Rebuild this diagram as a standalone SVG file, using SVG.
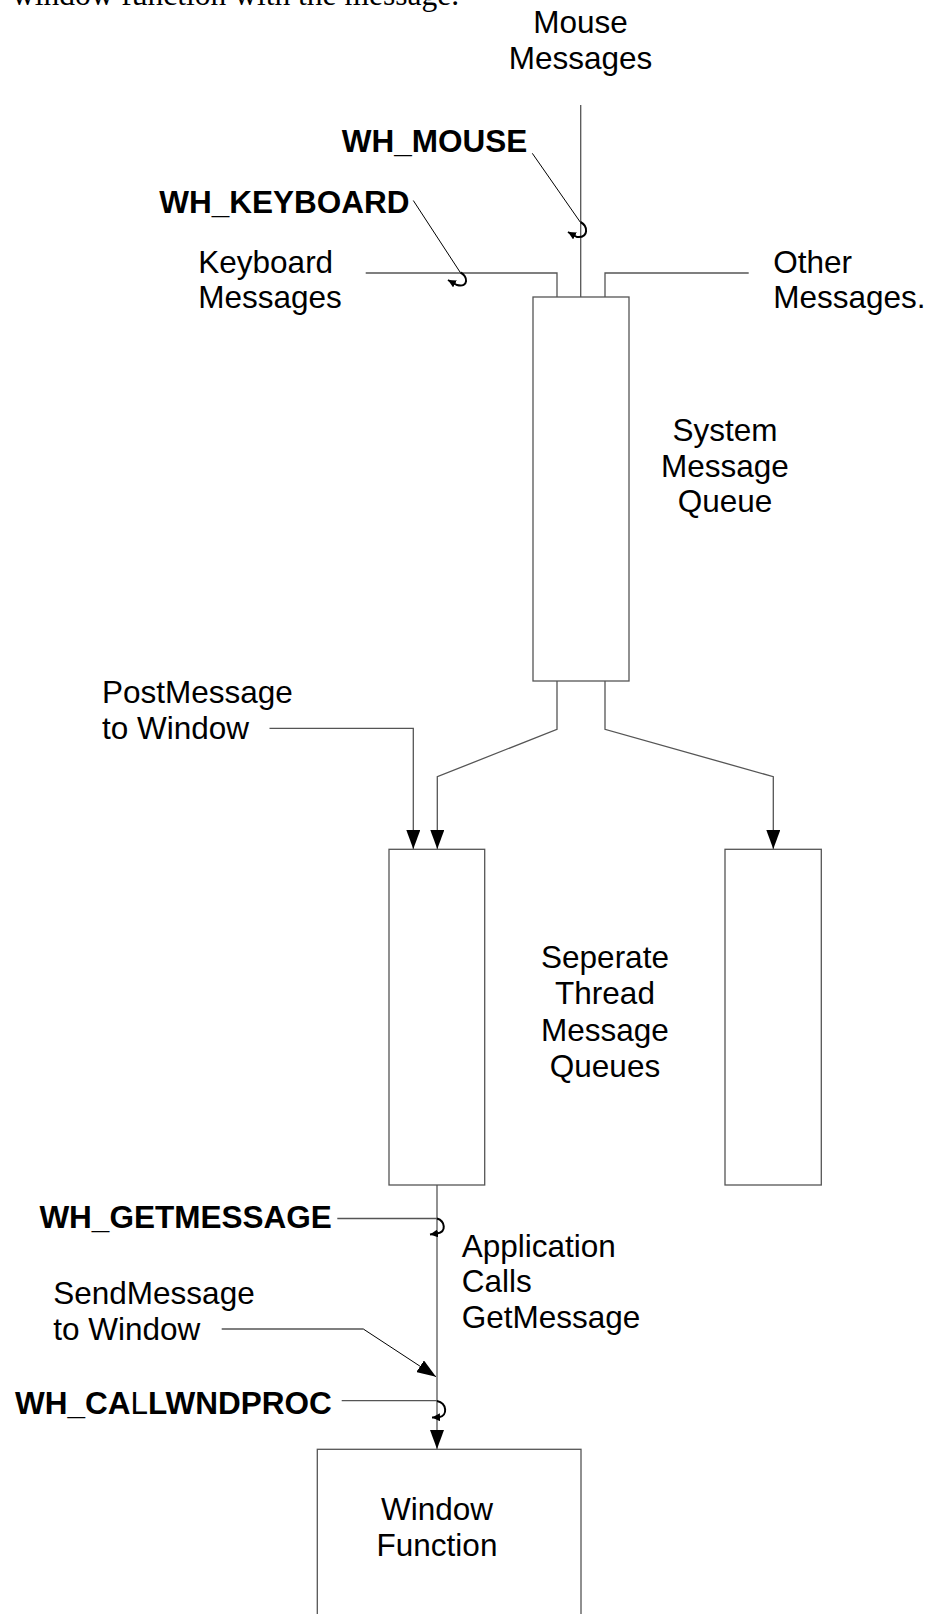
<svg xmlns="http://www.w3.org/2000/svg" width="929" height="1614" viewBox="0 0 929 1614">
  <style>
    .t { font-family: "Liberation Sans", Arial, sans-serif; font-size: 31.5px; fill: #000; }
    .b { font-family: "Liberation Sans", Arial, sans-serif; font-size: 31.5px; font-weight: bold; fill: #000; }
    .serif { font-family: "Liberation Serif", "Times New Roman", serif; font-size: 31.5px; fill: #000; }
    .box { fill: #fff; stroke: #555; stroke-width: 1.3; }
    .ln { fill: none; stroke: #555; stroke-width: 1.3; }
    .thin { fill: none; stroke: #000; stroke-width: 1; }
    .hk { fill: none; stroke: #000; stroke-width: 2; }
  </style>
  <defs>
    <marker id="arr" viewBox="0 0 19 14" refX="19" refY="7" markerWidth="19" markerHeight="14" markerUnits="userSpaceOnUse" orient="auto">
      <path d="M0,0 L19,7 L0,14 z" fill="#000"/>
    </marker>
    <marker id="hookArr" viewBox="0 0 8 8" refX="8" refY="4" markerWidth="8" markerHeight="8" markerUnits="userSpaceOnUse" orient="auto">
      <path d="M0,0 L8,4 L0,8 z" fill="#000"/>
    </marker>
  </defs>
  <rect width="929" height="1614" fill="#fff"/>

  <text class="serif" x="12" y="5">window function with the message.</text>

  <g id="connectors">
    <path class="ln" d="M580.7,105 V297"/>
    <path class="ln" d="M365.7,273 H557 V297"/>
    <path class="ln" d="M748.7,273 H605 V297"/>
    <path class="ln" d="M557,681 V729.3 L437.3,776.7 V849" marker-end="url(#arr)"/>
    <path class="ln" d="M605,681 V729.3 L773.3,776.7 V849" marker-end="url(#arr)"/>
    <path class="ln" d="M269.5,728.3 H413.3 V849" marker-end="url(#arr)"/>
    <path class="ln" d="M437,1185 V1449" marker-end="url(#arr)"/>
    <path class="ln" d="M337.3,1218.5 H437"/>
    <path class="ln" d="M341.7,1400.7 H437"/>
    <path class="ln" d="M221.7,1329 H363.3"/>
    <path class="thin" d="M363.3,1329 L436,1376.7" marker-end="url(#arr)"/>
    <path class="thin" d="M532.3,153.3 L580.2,222"/>
    <path class="thin" d="M413.3,200.5 L460.3,272.5"/>
    <path class="hk" d="M580.5,222 C588,226 589,238 577,237 L568,232" marker-end="url(#hookArr)"/>
    <path class="hk" d="M460.5,272.5 C468,276 469,288 457,285 L448,280" marker-end="url(#hookArr)"/>
    <path class="hk" d="M437,1218.5 C445,1221 447,1232 437,1233.5 L430,1234.5" marker-end="url(#hookArr)"/>
    <path class="hk" d="M437,1401 C447,1403 448,1416 439,1417.3 L432,1417.5" marker-end="url(#hookArr)"/>
  </g>

  <g id="mouse-messages">
    <text class="t" x="580.5" y="33.3" text-anchor="middle">Mouse</text>
    <text class="t" x="580.5" y="68.5" text-anchor="middle">Messages</text>
  </g>
  <g id="keyboard-messages">
    <text class="t" x="198.3" y="272.7">Keyboard</text>
    <text class="t" x="198.3" y="308.3">Messages</text>
  </g>
  <g id="other-messages">
    <text class="t" x="773.3" y="272.7">Other</text>
    <text class="t" x="773.3" y="308.3">Messages.</text>
  </g>
  <g id="wh-mouse">
    <text class="b" x="341.7" y="152">WH_MOUSE</text>
  </g>
  <g id="wh-keyboard">
    <text class="b" x="159.3" y="213.3">WH_KEYBOARD</text>
  </g>

  <g id="system-message-queue">
    <rect class="box" x="533" y="297" width="96" height="384"/>
    <text class="t" x="725" y="441" text-anchor="middle">System</text>
    <text class="t" x="725" y="476.7" text-anchor="middle">Message</text>
    <text class="t" x="725" y="512.3" text-anchor="middle">Queue</text>
  </g>

  <g id="postmessage">
    <text class="t" x="102" y="703.3">PostMessage</text>
    <text class="t" x="102" y="739">to Window</text>
  </g>

  <g id="thread-queue-1">
    <rect class="box" x="389" y="849.3" width="95.7" height="335.7"/>
  </g>
  <g id="thread-queue-2">
    <rect class="box" x="725" y="849.3" width="96.3" height="335.7"/>
  </g>
  <g id="thread-queues-label">
    <text class="t" x="605" y="968.3" text-anchor="middle">Seperate</text>
    <text class="t" x="605" y="1004.3" text-anchor="middle">Thread</text>
    <text class="t" x="605" y="1040.7" text-anchor="middle">Message</text>
    <text class="t" x="605" y="1076.7" text-anchor="middle">Queues</text>
  </g>

  <g id="wh-getmessage">
    <text class="b" x="331.7" y="1227.7" text-anchor="end">WH_GETMESSAGE</text>
  </g>
  <g id="application-calls">
    <text class="t" x="461.7" y="1256.7">Application</text>
    <text class="t" x="461.7" y="1291.7">Calls</text>
    <text class="t" x="461.7" y="1327.7">GetMessage</text>
  </g>
  <g id="sendmessage">
    <text class="t" x="53.3" y="1304.3">SendMessage</text>
    <text class="t" x="53.3" y="1340">to Window</text>
  </g>
  <g id="wh-callwndproc">
    <text class="b" x="331.7" y="1414.3" text-anchor="end">WH_CA<tspan font-weight="normal">L</tspan>LWNDPROC</text>
  </g>

  <g id="window-function">
    <rect class="box" x="317.3" y="1449.3" width="263.7" height="200"/>
    <text class="t" x="437" y="1520" text-anchor="middle">Window</text>
    <text class="t" x="437" y="1556" text-anchor="middle">Function</text>
  </g>
</svg>
